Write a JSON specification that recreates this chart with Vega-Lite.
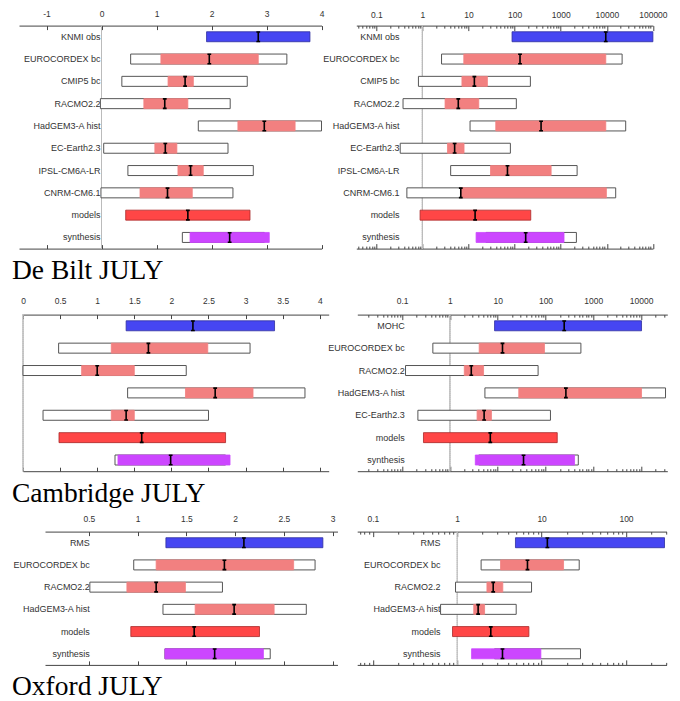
{
 "$schema": "https://vega.github.io/schema/vega-lite/v6.json",
 "background": "white",
 "padding": {"left": 0, "top": 9.6, "right": 0, "bottom": 0},
 "config": {
  "view": {"stroke": null},
  "axis": {"grid": false, "domainColor": "#444", "tickColor": "#444", "labelColor": "#333", "labelFont": "Liberation Sans", "labelFontSize": 8.5, "labelFlush": false, "labelOverlap": false, "domainWidth": 1, "tickWidth": 1}
 },
 "datasets": {
  "db_l": [
   {"name": "KNMI obs", "kind": "obs", "wlo": null, "whi": null, "clo": 1.91, "chi": 3.79, "mid": 2.85},
   {"name": "EUROCORDEX bc", "kind": "model", "wlo": 0.53, "whi": 3.37, "clo": 1.08, "chi": 2.85, "mid": 1.96},
   {"name": "CMIP5 bc", "kind": "model", "wlo": 0.37, "whi": 2.65, "clo": 1.21, "chi": 1.67, "mid": 1.52},
   {"name": "RACMO2.2", "kind": "model", "wlo": -0.02, "whi": 2.34, "clo": 0.77, "chi": 1.57, "mid": 1.15},
   {"name": "HadGEM3-A hist", "kind": "model", "wlo": 1.76, "whi": 4.0, "clo": 2.48, "chi": 3.52, "mid": 2.96},
   {"name": "EC-Earth2.3", "kind": "model", "wlo": 0.04, "whi": 2.3, "clo": 0.97, "chi": 1.37, "mid": 1.16},
   {"name": "IPSL-CM6A-LR", "kind": "model", "wlo": 0.48, "whi": 2.76, "clo": 1.39, "chi": 1.85, "mid": 1.62},
   {"name": "CNRM-CM6.1", "kind": "model", "wlo": -0.01, "whi": 2.39, "clo": 0.7, "chi": 1.65, "mid": 1.2},
   {"name": "models", "kind": "models", "wlo": null, "whi": null, "clo": 0.44, "chi": 2.7, "mid": 1.57},
   {"name": "synthesis", "kind": "synth", "wlo": 1.47, "whi": 2.96, "clo": 1.61, "chi": 3.05, "mid": 2.33}
  ],
  "db_r": [
   {"name": "KNMI obs", "kind": "obs", "wlo": null, "whi": null, "clo": 88, "chi": 100000, "mid": 9500},
   {"name": "EUROCORDEX bc", "kind": "model", "wlo": 2.6, "whi": 21500, "clo": 7.9, "chi": 9500, "mid": 131},
   {"name": "CMIP5 bc", "kind": "model", "wlo": 0.82, "whi": 220, "clo": 7.2, "chi": 25.7, "mid": 13.4},
   {"name": "RACMO2.2", "kind": "model", "wlo": 0.38, "whi": 109, "clo": 3.1, "chi": 16.7, "mid": 6.0},
   {"name": "HadGEM3-A hist", "kind": "model", "wlo": 10.8, "whi": 25700, "clo": 39, "chi": 9500, "mid": 375},
   {"name": "EC-Earth2.3", "kind": "model", "wlo": 0.33, "whi": 81, "clo": 3.5, "chi": 8.0, "mid": 5.0},
   {"name": "IPSL-CM6A-LR", "kind": "model", "wlo": 4.1, "whi": 2270, "clo": 30, "chi": 620, "mid": 70},
   {"name": "CNRM-CM6.1", "kind": "model", "wlo": 0.46, "whi": 15600, "clo": 6.8, "chi": 9800, "mid": 6.8},
   {"name": "models", "kind": "models", "wlo": null, "whi": null, "clo": 0.89, "chi": 224, "mid": 13.9},
   {"name": "synthesis", "kind": "synth", "wlo": 24, "whi": 2190, "clo": 14.6, "chi": 1180, "mid": 174}
  ],
  "cb_l": [
   {"name": "MOHC", "kind": "obs", "wlo": null, "whi": null, "clo": 1.39, "chi": 3.39, "mid": 2.29},
   {"name": "EUROCORDEX bc", "kind": "model", "wlo": 0.48, "whi": 3.06, "clo": 1.19, "chi": 2.49, "mid": 1.69},
   {"name": "RACMO2.2", "kind": "model", "wlo": 0.0, "whi": 2.2, "clo": 0.79, "chi": 1.5, "mid": 1.0},
   {"name": "HadGEM3-A hist", "kind": "model", "wlo": 1.41, "whi": 3.8, "clo": 2.19, "chi": 3.1, "mid": 2.59},
   {"name": "EC-Earth2.3", "kind": "model", "wlo": 0.27, "whi": 2.5, "clo": 1.19, "chi": 1.5, "mid": 1.39},
   {"name": "models", "kind": "models", "wlo": null, "whi": null, "clo": 0.485, "chi": 2.73, "mid": 1.6},
   {"name": "synthesis", "kind": "synth", "wlo": 1.24, "whi": 2.73, "clo": 1.28, "chi": 2.79, "mid": 1.99}
  ],
  "cb_r": [
   {"name": "MOHC", "kind": "obs", "wlo": null, "whi": null, "clo": 8.6, "chi": 10200, "mid": 246},
   {"name": "EUROCORDEX bc", "kind": "model", "wlo": 0.44, "whi": 550, "clo": 4.1, "chi": 95, "mid": 12.6},
   {"name": "RACMO2.2", "kind": "model", "wlo": 0.118, "whi": 70, "clo": 2.0, "chi": 5.06, "mid": 2.8},
   {"name": "HadGEM3-A hist", "kind": "model", "wlo": 5.4, "whi": 32400, "clo": 27.6, "chi": 10200, "mid": 267},
   {"name": "EC-Earth2.3", "kind": "model", "wlo": 0.214, "whi": 127, "clo": 3.7, "chi": 7.4, "mid": 5.2},
   {"name": "models", "kind": "models", "wlo": null, "whi": null, "clo": 0.28, "chi": 176, "mid": 7.0},
   {"name": "synthesis", "kind": "synth", "wlo": 4.0, "whi": 485, "clo": 3.4, "chi": 405, "mid": 34.7}
  ],
  "ox_l": [
   {"name": "RMS", "kind": "obs", "wlo": null, "whi": null, "clo": 1.29, "chi": 2.9, "mid": 2.09},
   {"name": "EUROCORDEX bc", "kind": "model", "wlo": 0.96, "whi": 2.82, "clo": 1.19, "chi": 2.6, "mid": 1.89},
   {"name": "RACMO2.2", "kind": "model", "wlo": 0.51, "whi": 1.87, "clo": 0.89, "chi": 1.49, "mid": 1.19},
   {"name": "HadGEM3-A hist", "kind": "model", "wlo": 1.26, "whi": 2.73, "clo": 1.59, "chi": 2.4, "mid": 1.99},
   {"name": "models", "kind": "models", "wlo": null, "whi": null, "clo": 0.93, "chi": 2.25, "mid": 1.58},
   {"name": "synthesis", "kind": "synth", "wlo": 1.28, "whi": 2.36, "clo": 1.28, "chi": 2.29, "mid": 1.79}
  ],
  "ox_r": [
   {"name": "RMS", "kind": "obs", "wlo": null, "whi": null, "clo": 4.9, "chi": 286, "mid": 11.7},
   {"name": "EUROCORDEX bc", "kind": "model", "wlo": 1.92, "whi": 27.9, "clo": 3.26, "chi": 18.2, "mid": 6.8},
   {"name": "RACMO2.2", "kind": "model", "wlo": 0.955, "whi": 7.6, "clo": 2.25, "chi": 3.47, "mid": 2.67},
   {"name": "HadGEM3-A hist", "kind": "model", "wlo": 0.635, "whi": 5.0, "clo": 1.57, "chi": 2.11, "mid": 1.77},
   {"name": "models", "kind": "models", "wlo": null, "whi": null, "clo": 0.88, "chi": 7.07, "mid": 2.5},
   {"name": "synthesis", "kind": "synth", "wlo": 2.77, "whi": 28.9, "clo": 1.48, "chi": 9.8, "mid": 3.44}
  ]
 },
 "spacing": 10,
 "vconcat": [
  {
   "spacing": 0,
   "bounds": "flush",
   "title": {"text": "De Bilt JULY", "orient": "bottom", "anchor": "start", "frame": "group", "dx": 12, "offset": 8.3, "font": "Liberation Serif", "fontSize": 27.5, "fontWeight": "normal", "color": "black"},
   "hconcat": [
    {"width": 18.2, "height": 1, "data": {"values": [{}]}, "mark": {"type": "point", "opacity": 0, "size": 0}, "encoding": {}},
    {
     "spacing": 34.3,
     "bounds": "flush",
     "hconcat": [
      {
       "width": 302.5, "height": 223,
       "data": {"name": "db_l"},
       "layer": [
        {"mark": {"type": "rule", "color": "#bbbbbb", "strokeDash": [1, 1], "strokeWidth": 0.8},
         "encoding": {"x": {"datum": 0, "type": "quantitative", "axis": null}}},
        {"mark": {"type": "text", "align": "right", "baseline": "middle", "font": "Liberation Sans", "fontSize": 9, "color": "#333", "dx": -1},
         "encoding": {"x": {"datum": 0, "type": "quantitative", "axis": null},
          "y": {"field": "name", "type": "nominal", "sort": null, "axis": null, "scale": {"domain": ["KNMI obs", "EUROCORDEX bc", "CMIP5 bc", "RACMO2.2", "HadGEM3-A hist", "EC-Earth2.3", "IPSL-CM6A-LR", "CNRM-CM6.1", "models", "synthesis"], "paddingInner": 0, "paddingOuter": 0}},
          "text": {"field": "name"}}},
        {"transform": [{"filter": "datum.wlo != null"}],
         "mark": {"type": "bar", "fill": "white", "stroke": "#555", "strokeWidth": 1, "size": 10},
         "encoding": {
          "x": {"field": "wlo", "type": "quantitative", "scale": {"domain": [-1.5, 4], "nice": false, "zero": false},
           "axis": {"orient": "top", "values": [-1, 0, 1, 2, 3, 4], "tickSize": -4, "labelPadding": 10.6, "labelExpr": "'' + datum.value", "title": null}},
          "x2": {"field": "whi"},
          "y": {"field": "name", "type": "nominal", "sort": null, "axis": null}}},
        {"mark": {"type": "bar", "size": 10, "strokeWidth": 0.8},
         "encoding": {
          "x": {"field": "clo", "type": "quantitative", "axis": {"orient": "bottom", "values": [-1, 0, 1, 2, 3, 4], "tickSize": -4, "labels": false, "title": null}},
          "x2": {"field": "chi"},
          "y": {"field": "name", "type": "nominal", "sort": null, "axis": null},
          "fill": {"field": "kind", "type": "nominal", "legend": null, "scale": {"domain": ["obs", "model", "models", "synth"], "range": ["#4646f2", "#f28080", "#ff4646", "#cc46ff"]}},
          "stroke": {"field": "kind", "type": "nominal", "legend": null, "scale": {"domain": ["obs", "model", "models", "synth"], "range": ["#2e2e9e", "#f28080", "#a82a2a", "#cc46ff"]}}}},
        {"mark": {"type": "point", "shape": "M-0.4,-1H0.4M0,-1V1M-0.4,1H0.4", "filled": false, "stroke": "black", "strokeWidth": 1.6, "size": 90, "opacity": 1},
         "encoding": {"x": {"field": "mid", "type": "quantitative", "axis": null}, "y": {"field": "name", "type": "nominal", "sort": null, "axis": null}}}
       ],
       "resolve": {"axis": {"x": "independent"}}
      },
      {
       "width": 296.6, "height": 223,
       "data": {"name": "db_r"},
       "layer": [
        {"mark": {"type": "rule", "color": "#bbbbbb", "strokeDash": [1, 1], "strokeWidth": 0.8},
         "encoding": {"x": {"datum": 1, "type": "quantitative", "axis": null}}},
        {"mark": {"type": "text", "align": "right", "baseline": "middle", "font": "Liberation Sans", "fontSize": 9, "color": "#333"},
         "encoding": {"x": {"datum": 0.32, "type": "quantitative",
           "axis": {"orient": "bottom", "values": [0.04, 0.05, 0.06, 0.07, 0.08, 0.09, 0.2, 0.3, 0.4, 0.5, 0.6, 0.7, 0.8, 0.9, 2, 3, 4, 5, 6, 7, 8, 9, 20, 30, 40, 50, 60, 70, 80, 90, 200, 300, 400, 500, 600, 700, 800, 900, 2000, 3000, 4000, 5000, 6000, 7000, 8000, 9000, 20000, 30000, 40000, 50000, 60000, 70000, 80000, 90000], "tickSize": -2.5, "labels": false, "domain": false, "title": null}},
          "y": {"field": "name", "type": "nominal", "sort": null, "axis": null, "scale": {"domain": ["KNMI obs", "EUROCORDEX bc", "CMIP5 bc", "RACMO2.2", "HadGEM3-A hist", "EC-Earth2.3", "IPSL-CM6A-LR", "CNRM-CM6.1", "models", "synthesis"], "paddingInner": 0, "paddingOuter": 0}},
          "text": {"field": "name"}}},
        {"transform": [{"filter": "datum.wlo != null"}],
         "mark": {"type": "bar", "fill": "white", "stroke": "#555", "strokeWidth": 1, "size": 10},
         "encoding": {
          "x": {"field": "wlo", "type": "quantitative", "scale": {"type": "log", "domain": [0.0368, 100000], "nice": false},
           "axis": {"orient": "top", "values": [0.1, 1, 10, 100, 1000, 10000, 100000], "tickSize": -5, "labelPadding": 11.2, "labelExpr": "format(datum.value, '~g')", "title": null}},
          "x2": {"field": "whi"},
          "y": {"field": "name", "type": "nominal", "sort": null, "axis": null}}},
        {"mark": {"type": "bar", "size": 10, "strokeWidth": 0.8},
         "encoding": {
          "x": {"field": "clo", "type": "quantitative", "axis": {"orient": "bottom", "values": [0.1, 1, 10, 100, 1000, 10000, 100000], "tickSize": -5, "labels": false, "title": null}},
          "x2": {"field": "chi"},
          "y": {"field": "name", "type": "nominal", "sort": null, "axis": null},
          "fill": {"field": "kind", "type": "nominal", "legend": null, "scale": {"domain": ["obs", "model", "models", "synth"], "range": ["#4646f2", "#f28080", "#ff4646", "#cc46ff"]}},
          "stroke": {"field": "kind", "type": "nominal", "legend": null, "scale": {"domain": ["obs", "model", "models", "synth"], "range": ["#2e2e9e", "#f28080", "#a82a2a", "#cc46ff"]}}}},
        {"mark": {"type": "point", "shape": "M-0.4,-1H0.4M0,-1V1M-0.4,1H0.4", "filled": false, "stroke": "black", "strokeWidth": 1.6, "size": 90, "opacity": 1},
         "encoding": {"x": {"field": "mid", "type": "quantitative",
           "axis": {"orient": "top", "values": [0.04, 0.05, 0.06, 0.07, 0.08, 0.09, 0.2, 0.3, 0.4, 0.5, 0.6, 0.7, 0.8, 0.9, 2, 3, 4, 5, 6, 7, 8, 9, 20, 30, 40, 50, 60, 70, 80, 90, 200, 300, 400, 500, 600, 700, 800, 900, 2000, 3000, 4000, 5000, 6000, 7000, 8000, 9000, 20000, 30000, 40000, 50000, 60000, 70000, 80000, 90000], "tickSize": -2.5, "labels": false, "domain": false, "title": null}},
          "y": {"field": "name", "type": "nominal", "sort": null, "axis": null}}}
       ],
       "resolve": {"axis": {"x": "independent"}}
      }
     ]
    }
   ]
  },
  {
   "spacing": 6,
   "vconcat": [
    {
     "spacing": 0,
     "bounds": "flush",
     "title": {"text": "Cambridge JULY", "orient": "bottom", "anchor": "start", "frame": "group", "dx": 12, "offset": 8, "font": "Liberation Serif", "fontSize": 27.5, "fontWeight": "normal", "color": "black"},
     "hconcat": [
      {"width": 22.7, "height": 1, "data": {"values": [{}]}, "mark": {"type": "point", "opacity": 0, "size": 0}, "encoding": {}},
      {
       "spacing": 28.3,
       "bounds": "flush",
       "hconcat": [
        {
         "width": 305.7, "height": 156.6,
         "data": {"name": "cb_l"},
         "layer": [
          {"mark": {"type": "rule", "color": "#bbbbbb", "strokeDash": [1, 1], "strokeWidth": 0.8},
           "encoding": {"x": {"datum": 0, "type": "quantitative", "axis": null}}},
          {"transform": [{"filter": "datum.wlo != null"}],
           "mark": {"type": "bar", "fill": "white", "stroke": "#555", "strokeWidth": 1, "size": 10},
           "encoding": {
            "x": {"field": "wlo", "type": "quantitative", "scale": {"domain": [0, 4.12], "nice": false, "zero": false},
             "axis": {"orient": "top", "values": [0, 0.5, 1, 1.5, 2, 2.5, 3, 3.5, 4], "tickSize": -4, "labelPadding": 13.3, "labelExpr": "'' + datum.value", "title": null}},
            "x2": {"field": "whi"},
            "y": {"field": "name", "type": "nominal", "sort": null, "axis": null, "scale": {"domain": ["MOHC", "EUROCORDEX bc", "RACMO2.2", "HadGEM3-A hist", "EC-Earth2.3", "models", "synthesis"], "paddingInner": 0, "paddingOuter": 0}}}},
          {"mark": {"type": "bar", "size": 10, "strokeWidth": 0.8},
           "encoding": {
            "x": {"field": "clo", "type": "quantitative", "axis": {"orient": "bottom", "values": [0, 0.5, 1, 1.5, 2, 2.5, 3, 3.5, 4], "tickSize": -4, "labels": false, "title": null}},
            "x2": {"field": "chi"},
            "y": {"field": "name", "type": "nominal", "sort": null, "axis": null},
            "fill": {"field": "kind", "type": "nominal", "legend": null, "scale": {"domain": ["obs", "model", "models", "synth"], "range": ["#4646f2", "#f28080", "#ff4646", "#cc46ff"]}},
            "stroke": {"field": "kind", "type": "nominal", "legend": null, "scale": {"domain": ["obs", "model", "models", "synth"], "range": ["#2e2e9e", "#f28080", "#a82a2a", "#cc46ff"]}}}},
          {"mark": {"type": "point", "shape": "M-0.4,-1H0.4M0,-1V1M-0.4,1H0.4", "filled": false, "stroke": "black", "strokeWidth": 1.6, "size": 90, "opacity": 1},
           "encoding": {"x": {"field": "mid", "type": "quantitative", "axis": null}, "y": {"field": "name", "type": "nominal", "sort": null, "axis": null}}}
         ],
         "resolve": {"axis": {"x": "independent"}}
        },
        {
         "width": 310, "height": 156.6,
         "data": {"name": "cb_r"},
         "layer": [
          {"mark": {"type": "rule", "color": "#bbbbbb", "strokeDash": [1, 1], "strokeWidth": 0.8},
           "encoding": {"x": {"datum": 1, "type": "quantitative", "axis": null}}},
          {"mark": {"type": "text", "align": "right", "baseline": "middle", "font": "Liberation Sans", "fontSize": 9, "color": "#333"},
           "encoding": {"x": {"datum": 0.113, "type": "quantitative",
             "axis": {"orient": "bottom", "values": [0.02, 0.03, 0.04, 0.05, 0.06, 0.07, 0.08, 0.09, 0.2, 0.3, 0.4, 0.5, 0.6, 0.7, 0.8, 0.9, 2, 3, 4, 5, 6, 7, 8, 9, 20, 30, 40, 50, 60, 70, 80, 90, 200, 300, 400, 500, 600, 700, 800, 900, 2000, 3000, 4000, 5000, 6000, 7000, 8000, 9000, 20000, 30000], "tickSize": -2.5, "labels": false, "domain": false, "title": null}},
            "y": {"field": "name", "type": "nominal", "sort": null, "axis": null, "scale": {"domain": ["MOHC", "EUROCORDEX bc", "RACMO2.2", "HadGEM3-A hist", "EC-Earth2.3", "models", "synthesis"], "paddingInner": 0, "paddingOuter": 0}},
            "text": {"field": "name"}}},
          {"transform": [{"filter": "datum.wlo != null"}],
           "mark": {"type": "bar", "fill": "white", "stroke": "#555", "strokeWidth": 1, "size": 10},
           "encoding": {
            "x": {"field": "wlo", "type": "quantitative", "scale": {"type": "log", "domain": [0.01156, 35300], "nice": false},
             "axis": {"orient": "top", "values": [0.1, 1, 10, 100, 1000, 10000], "tickSize": -5, "labelPadding": 13.8, "labelExpr": "format(datum.value, '~g')", "title": null}},
            "x2": {"field": "whi"},
            "y": {"field": "name", "type": "nominal", "sort": null, "axis": null}}},
          {"mark": {"type": "bar", "size": 10, "strokeWidth": 0.8},
           "encoding": {
            "x": {"field": "clo", "type": "quantitative", "axis": {"orient": "bottom", "values": [0.1, 1, 10, 100, 1000, 10000], "tickSize": -5, "labels": false, "title": null}},
            "x2": {"field": "chi"},
            "y": {"field": "name", "type": "nominal", "sort": null, "axis": null},
            "fill": {"field": "kind", "type": "nominal", "legend": null, "scale": {"domain": ["obs", "model", "models", "synth"], "range": ["#4646f2", "#f28080", "#ff4646", "#cc46ff"]}},
            "stroke": {"field": "kind", "type": "nominal", "legend": null, "scale": {"domain": ["obs", "model", "models", "synth"], "range": ["#2e2e9e", "#f28080", "#a82a2a", "#cc46ff"]}}}},
          {"mark": {"type": "point", "shape": "M-0.4,-1H0.4M0,-1V1M-0.4,1H0.4", "filled": false, "stroke": "black", "strokeWidth": 1.6, "size": 90, "opacity": 1},
           "encoding": {"x": {"field": "mid", "type": "quantitative",
             "axis": {"orient": "top", "values": [0.02, 0.03, 0.04, 0.05, 0.06, 0.07, 0.08, 0.09, 0.2, 0.3, 0.4, 0.5, 0.6, 0.7, 0.8, 0.9, 2, 3, 4, 5, 6, 7, 8, 9, 20, 30, 40, 50, 60, 70, 80, 90, 200, 300, 400, 500, 600, 700, 800, 900, 2000, 3000, 4000, 5000, 6000, 7000, 8000, 9000, 20000, 30000], "tickSize": -2.5, "labels": false, "domain": false, "title": null}},
            "y": {"field": "name", "type": "nominal", "sort": null, "axis": null}}}
         ],
         "resolve": {"axis": {"x": "independent"}}
        }
       ]
      }
     ]
    },
    {
     "spacing": 0,
     "bounds": "flush",
     "title": {"text": "Oxford JULY", "orient": "bottom", "anchor": "start", "frame": "group", "dx": 12, "offset": 7.8, "font": "Liberation Serif", "fontSize": 27.5, "fontWeight": "normal", "color": "black"},
     "hconcat": [
      {"width": 45, "height": 1, "data": {"values": [{}]}, "mark": {"type": "point", "opacity": 0, "size": 0}, "encoding": {}},
      {
       "spacing": 19.2,
       "bounds": "flush",
       "hconcat": [
        {
         "width": 292.5, "height": 133.3,
         "data": {"name": "ox_l"},
         "layer": [
          {"mark": {"type": "text", "align": "right", "baseline": "middle", "font": "Liberation Sans", "fontSize": 9, "color": "#333"},
           "encoding": {"x": {"datum": 0.51, "type": "quantitative", "axis": null},
            "y": {"field": "name", "type": "nominal", "sort": null, "axis": null, "scale": {"domain": ["RMS", "EUROCORDEX bc", "RACMO2.2", "HadGEM3-A hist", "models", "synthesis"], "paddingInner": 0, "paddingOuter": 0}},
            "text": {"field": "name"}}},
          {"transform": [{"filter": "datum.wlo != null"}],
           "mark": {"type": "bar", "fill": "white", "stroke": "#555", "strokeWidth": 1, "size": 10},
           "encoding": {
            "x": {"field": "wlo", "type": "quantitative", "scale": {"domain": [0.05, 3.05], "nice": false, "zero": false},
             "axis": {"orient": "top", "values": [0.5, 1, 1.5, 2, 2.5, 3], "tickSize": -4, "labelPadding": 12.4, "labelExpr": "'' + datum.value", "title": null}},
            "x2": {"field": "whi"},
            "y": {"field": "name", "type": "nominal", "sort": null, "axis": null}}},
          {"mark": {"type": "bar", "size": 10, "strokeWidth": 0.8},
           "encoding": {
            "x": {"field": "clo", "type": "quantitative", "axis": {"orient": "bottom", "values": [0.5, 1, 1.5, 2, 2.5, 3], "tickSize": -4, "labels": false, "title": null}},
            "x2": {"field": "chi"},
            "y": {"field": "name", "type": "nominal", "sort": null, "axis": null},
            "fill": {"field": "kind", "type": "nominal", "legend": null, "scale": {"domain": ["obs", "model", "models", "synth"], "range": ["#4646f2", "#f28080", "#ff4646", "#cc46ff"]}},
            "stroke": {"field": "kind", "type": "nominal", "legend": null, "scale": {"domain": ["obs", "model", "models", "synth"], "range": ["#2e2e9e", "#f28080", "#a82a2a", "#cc46ff"]}}}},
          {"mark": {"type": "point", "shape": "M-0.4,-1H0.4M0,-1V1M-0.4,1H0.4", "filled": false, "stroke": "black", "strokeWidth": 1.6, "size": 90, "opacity": 1},
           "encoding": {"x": {"field": "mid", "type": "quantitative", "axis": null}, "y": {"field": "name", "type": "nominal", "sort": null, "axis": null}}}
         ],
         "resolve": {"axis": {"x": "independent"}}
        },
        {
         "width": 309.3, "height": 133.3,
         "data": {"name": "ox_r"},
         "layer": [
          {"mark": {"type": "rule", "color": "#bbbbbb", "strokeDash": [1, 1], "strokeWidth": 0.8},
           "encoding": {"x": {"datum": 1, "type": "quantitative", "axis": null}}},
          {"mark": {"type": "text", "align": "right", "baseline": "middle", "font": "Liberation Sans", "fontSize": 9, "color": "#333"},
           "encoding": {"x": {"datum": 0.634, "type": "quantitative",
             "axis": {"orient": "bottom", "values": [0.07, 0.08, 0.09, 0.2, 0.3, 0.4, 0.5, 0.6, 0.7, 0.8, 0.9, 2, 3, 4, 5, 6, 7, 8, 9, 20, 30, 40, 50, 60, 70, 80, 90, 200, 300], "tickSize": -2.5, "labels": false, "domain": false, "title": null}},
            "y": {"field": "name", "type": "nominal", "sort": null, "axis": null, "scale": {"domain": ["RMS", "EUROCORDEX bc", "RACMO2.2", "HadGEM3-A hist", "models", "synthesis"], "paddingInner": 0, "paddingOuter": 0}},
            "text": {"field": "name"}}},
          {"transform": [{"filter": "datum.wlo != null"}],
           "mark": {"type": "bar", "fill": "white", "stroke": "#555", "strokeWidth": 1, "size": 10},
           "encoding": {
            "x": {"field": "wlo", "type": "quantitative", "scale": {"type": "log", "domain": [0.0653, 302], "nice": false},
             "axis": {"orient": "top", "values": [0.1, 1, 10, 100], "tickSize": -5, "labelPadding": 12.8, "labelExpr": "format(datum.value, '~g')", "title": null}},
            "x2": {"field": "whi"},
            "y": {"field": "name", "type": "nominal", "sort": null, "axis": null}}},
          {"mark": {"type": "bar", "size": 10, "strokeWidth": 0.8},
           "encoding": {
            "x": {"field": "clo", "type": "quantitative", "axis": {"orient": "bottom", "values": [0.1, 1, 10, 100], "tickSize": -5, "labels": false, "title": null}},
            "x2": {"field": "chi"},
            "y": {"field": "name", "type": "nominal", "sort": null, "axis": null},
            "fill": {"field": "kind", "type": "nominal", "legend": null, "scale": {"domain": ["obs", "model", "models", "synth"], "range": ["#4646f2", "#f28080", "#ff4646", "#cc46ff"]}},
            "stroke": {"field": "kind", "type": "nominal", "legend": null, "scale": {"domain": ["obs", "model", "models", "synth"], "range": ["#2e2e9e", "#f28080", "#a82a2a", "#cc46ff"]}}}},
          {"mark": {"type": "point", "shape": "M-0.4,-1H0.4M0,-1V1M-0.4,1H0.4", "filled": false, "stroke": "black", "strokeWidth": 1.6, "size": 90, "opacity": 1},
           "encoding": {"x": {"field": "mid", "type": "quantitative",
             "axis": {"orient": "top", "values": [0.07, 0.08, 0.09, 0.2, 0.3, 0.4, 0.5, 0.6, 0.7, 0.8, 0.9, 2, 3, 4, 5, 6, 7, 8, 9, 20, 30, 40, 50, 60, 70, 80, 90, 200, 300], "tickSize": -2.5, "labels": false, "domain": false, "title": null}},
            "y": {"field": "name", "type": "nominal", "sort": null, "axis": null}}}
         ],
         "resolve": {"axis": {"x": "independent"}}
        }
       ]
      }
     ]
    }
   ]
  }
 ]
}
